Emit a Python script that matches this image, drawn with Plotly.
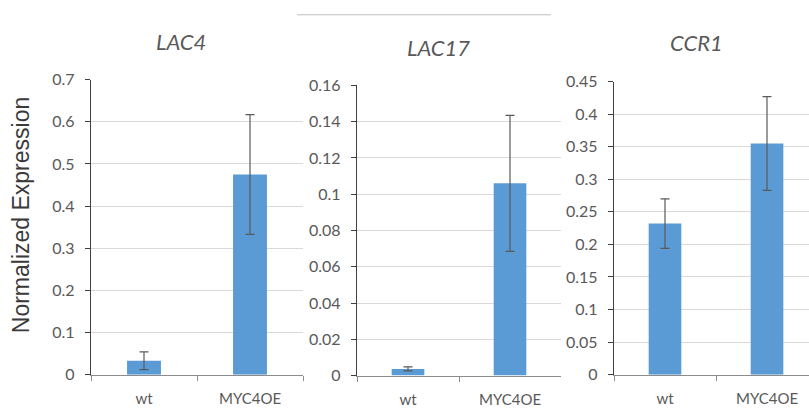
import plotly.graph_objects as go

W, H = 809, 418

categories = ["wt", "MYC4OE"]
genes = ["LAC4", "LAC17", "CCR1"]
lac4_vals = [0.033, 0.475]
lac4_err = [0.021, 0.142]
lac17_vals = [0.0037, 0.106]
lac17_err = [0.0011, 0.0375]
ccr1_vals = [0.232, 0.355]
ccr1_err = [0.038, 0.072]
y_max = [0.7, 0.16, 0.45]
y_step = [0.1, 0.02, 0.05]
y_label = "Normalized Expression"

values = [lac4_vals, lac17_vals, ccr1_vals]
errors = [lac4_err, lac17_err, ccr1_err]

BAR = "#5B9BD5"
TXT = "#595959"
GRID = "#d9d9d9"
FONT = "Lato, 'Open Sans', sans-serif"

panels = [(91, 303, 73, 382), (357, 561, 79, 383), (614, 809, 75, 382)]
title_pos = [(181, 33), (438, 39), (696, 34)]
cat_px = 102

fig = go.Figure()
for i in range(3):
    sfx = "" if i == 0 else str(i + 1)
    fig.add_trace(go.Bar(
        x=categories, y=values[i],
        error_y=dict(type="data", array=errors[i], visible=True,
                     color="#595959", thickness=1.2, width=4.5),
        marker=dict(color=BAR, line=dict(width=0)),
        xaxis="x" + sfx, yaxis="y" + sfx, showlegend=False,
        hoverinfo="skip",
    ))
    x0, x1, yt, yb = panels[i]
    xr = [-0.5, -0.5 + (x1 - x0) / cat_px] if i == 2 else [-0.5, 1.5]
    fig.update_layout(**{
        "xaxis" + sfx: dict(
            domain=[x0 / W, x1 / W], anchor="y" + sfx, range=xr,
            showline=True, linecolor="#8c8c8c", linewidth=1,
            ticks="outside", tickson="boundaries", ticklen=5, tickcolor="#8c8c8c",
            ticklabelstandoff=10,
            tickfont=dict(family=FONT, size=15, color=TXT),
            showgrid=False, zeroline=False, fixedrange=True,
        ),
        "yaxis" + sfx: dict(
            domain=[1 - yb / H, 1 - yt / H], anchor="x" + sfx,
            range=[0, y_max[i]], dtick=y_step[i], tick0=0,
            showline=True, linecolor="#404040", linewidth=1.3,
            ticks="outside", ticklen=5, tickcolor="#404040",
            ticklabelstandoff=7,
            tickfont=dict(family=FONT, size=16, color=TXT),
            showgrid=True, gridcolor=GRID, gridwidth=1, zeroline=False,
            fixedrange=True,
        ),
    })
    tx, ty = title_pos[i]
    fig.add_annotation(
        x=tx / W, y=1 - ty / H, xref="paper", yref="paper",
        text=genes[i], showarrow=False, xanchor="center", yanchor="middle",
        font=dict(family=FONT, size=22, color=TXT, style="italic"),
    )

fig.add_annotation(
    x=21 / W, y=1 - 215 / H, xref="paper", yref="paper",
    text=y_label, textangle=-90, showarrow=False,
    xanchor="center", yanchor="middle",
    font=dict(family="'Liberation Sans', Arial, sans-serif", size=23, color="#3a3a3a"),
)

fig.add_shape(type="line", xref="paper", yref="paper",
              x0=297 / W, x1=551 / W, y0=1 - 5 / H, y1=1 - 5 / H,
              line=dict(color="#bfbfbf", width=1))

fig.update_layout(
    width=W, height=H, margin=dict(l=0, r=0, t=0, b=0),
    paper_bgcolor="white", plot_bgcolor="white",
    bargap=0.68, hovermode=False,
)

pin = ("document.body.style.margin='0';"
       "var d=document.getElementById('{plot_id}');"
       "d.style.position='fixed';d.style.left='0px';d.style.top='0px';")
fig.write_html("out.html", post_script=pin,
               config={"displayModeBar": False, "staticPlot": True})
